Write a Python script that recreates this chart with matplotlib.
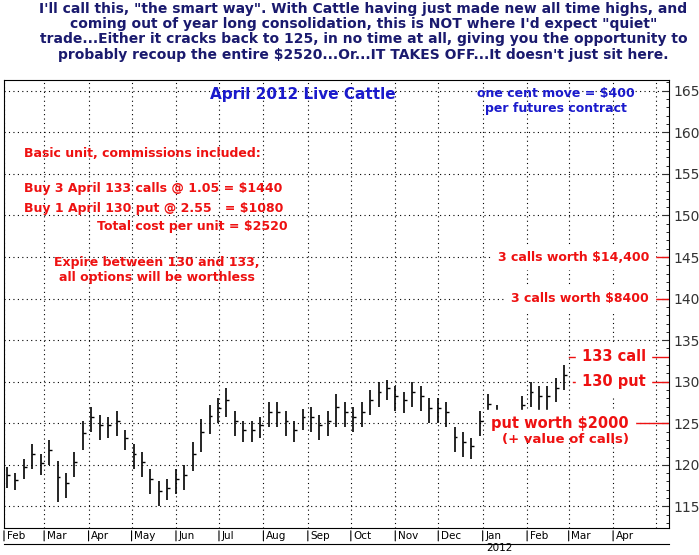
import numpy as np
import pandas as pd
import matplotlib.pyplot as plt
import matplotlib.dates as mdates

# weekly midpoints of April 2012 Live Cattle, Feb 2011 - Feb 2012
mids = [118.5, 118, 119.5, 121, 120, 121.5, 118, 117.5,
        120, 123.5, 125.5, 124.5, 124.5, 125, 123, 121,
        120, 118, 116.5, 117, 118, 118.5, 121, 123.5,
        125.5, 126.5, 127.5, 125, 124, 124, 124.5, 126,
        126, 125, 124, 125.5, 125.5, 124.5, 125, 126.5,
        126, 125.5, 126, 127.5, 128.5, 129, 128, 127.5,
        128.5, 128, 126.5, 126.5, 126, 123, 122.5, 122,
        125, 127, 126, 125, 125, 127, 128.5, 128, 128, 129, 130.5]
spans = [2.5, 2, 2.5, 3, 2.5, 3, 5, 3,
         3, 3.5, 3, 3, 2.5, 3, 2.5, 3,
         3, 3, 3, 2.5, 3, 3, 3.5, 4,
         3.5, 3, 3.5, 3, 2.5, 2.5, 2.5, 3,
         3, 3, 2.5, 2.5, 3, 3, 3, 4,
         3, 3, 3, 3, 3, 2.5, 3, 2.5,
         3, 3, 3, 3, 3, 3, 3, 2.5,
         3, 3, 2.5, 2.5, 2, 2.5, 3, 3, 3, 3, 3]
month_labels = ["Feb", "Mar", "Apr", "May", "Jun", "Jul", "Aug", "Sep",
                "Oct", "Nov", "Dec", "Jan", "Feb", "Mar", "Apr"]
title_text = ("I'll call this, \"the smart way\". With Cattle having just made new all time highs, and\n"
              "coming out of year long consolidation, this is NOT where I'd expect \"quiet\"\n"
              "trade...Either it cracks back to 125, in no time at all, giving you the opportunity to\n"
              "probably recoup the entire $2520...Or...IT TAKES OFF...It doesn't just sit here.")

dates = pd.date_range("2011-02-03", "2012-02-27", periods=len(mids))
mids = np.array(mids)
spans = np.array(spans)

fig = plt.figure(figsize=(6.99, 5.55), dpi=100)
ax = fig.add_axes([4 / 699, 27 / 555, 665 / 699, 448 / 555])

ax.vlines(dates, mids - spans / 2, mids + spans / 2, color="black", lw=1.2)
ax.hlines(mids + spans * 0.1, dates, dates + pd.Timedelta(days=2), color="black", lw=1)

ax.set_xlim(pd.Timestamp("2011-02-01"), pd.Timestamp("2012-05-10"))
ax.set_ylim(112.4, 166.3)
ax.yaxis.tick_right()
ax.set_yticks(range(115, 166, 5))
ax.set_yticks(np.arange(113, 167, 1), minor=True)
ax.tick_params(axis="y", labelsize=10, length=5, direction="in", colors="#333333")
ax.tick_params(axis="y", which="minor", length=2, direction="in")
ax.xaxis.set_major_locator(mdates.MonthLocator())
ax.set_xticklabels([])
ax.tick_params(axis="x", length=0)
ax.grid(True, linestyle=(0, (1, 3)), color="black", lw=0.8)

# month boxes below the axis
mpos = pd.date_range("2011-02-01", "2012-04-01", freq="MS")
for d, lab in zip(mpos, month_labels):
    ax.annotate(lab, (mdates.date2num(d), 0), xycoords=("data", "axes fraction"),
                xytext=(2, -2), textcoords="offset points", va="top", fontsize=7.5)
    ax.annotate("", (mdates.date2num(d), 0), xycoords=("data", "axes fraction"),
                xytext=(mdates.date2num(d), -0.035), textcoords=("data", "axes fraction"),
                arrowprops=dict(arrowstyle="-", lw=0.8))
fig.add_artist(plt.Line2D([4 / 699, 669 / 699], [11 / 555, 11 / 555], color="black", lw=0.8))
fig.text(486 / 699, 2 / 555, "2012", fontsize=7.5, va="bottom")

red = "#ee1111"
fig.text(0.52, 0.997, title_text, ha="center", va="top", color="#1a1a6e",
         fontsize=10, fontweight="bold", linespacing=1.12)
ax.text(0.45, 0.985, "April 2012 Live Cattle", transform=ax.transAxes, ha="center", va="top",
        color="#1a1acc", fontsize=11, fontweight="bold")
ax.text(0.83, 0.985, "one cent move = $400\nper futures contract", transform=ax.transAxes,
        ha="center", va="top", color="#1a1acc", fontsize=9, fontweight="bold")
ax.text(0.03, 157.5, "Basic unit, commissions included:", transform=ax.get_yaxis_transform(),
        color=red, fontsize=9, fontweight="bold", va="center")
ax.text(0.03, 153.2, "Buy 3 April 133 calls @ 1.05 = $1440", transform=ax.get_yaxis_transform(),
        color=red, fontsize=9, fontweight="bold", va="center")
ax.text(0.03, 150.9, "Buy 1 April 130 put @ 2.55   = $1080", transform=ax.get_yaxis_transform(),
        color=red, fontsize=9, fontweight="bold", va="center")
ax.text(0.14, 148.7, "Total cost per unit = $2520", transform=ax.get_yaxis_transform(),
        color=red, fontsize=9, fontweight="bold", va="center")
ax.text(0.23, 143.4, "Expire between 130 and 133,\nall options will be worthless",
        transform=ax.get_yaxis_transform(), ha="center", va="center", color=red, fontsize=9,
        fontweight="bold", linespacing=1.2)

levels = [145, 140, 133, 130, 125]
labels = ["3 calls worth $14,400", "3 calls worth $8400", "133 call", "130 put", "put worth $2000"]
starts = [0.745, 0.765, 0.85, 0.855, 0.815]
ends = [0.97, 0.97, 0.965, 0.965, 0.94]
for lv, lab, x0, x1 in zip(levels, labels, starts, ends):
    ax.plot([x0, 1], [lv, lv], color=red, lw=1, transform=ax.get_yaxis_transform())
    ax.text(x1, lv, lab, transform=ax.get_yaxis_transform(),
            ha="right", va="center", color=red, fontsize=9 if "calls" in lab else 10.5,
            fontweight="bold", backgroundcolor="white")
ax.text(0.94, 123.0, "(+ value of calls)", transform=ax.get_yaxis_transform(), ha="right",
        va="center", color=red, fontsize=9.5, fontweight="bold")

fig.savefig("out.png", dpi=100)
